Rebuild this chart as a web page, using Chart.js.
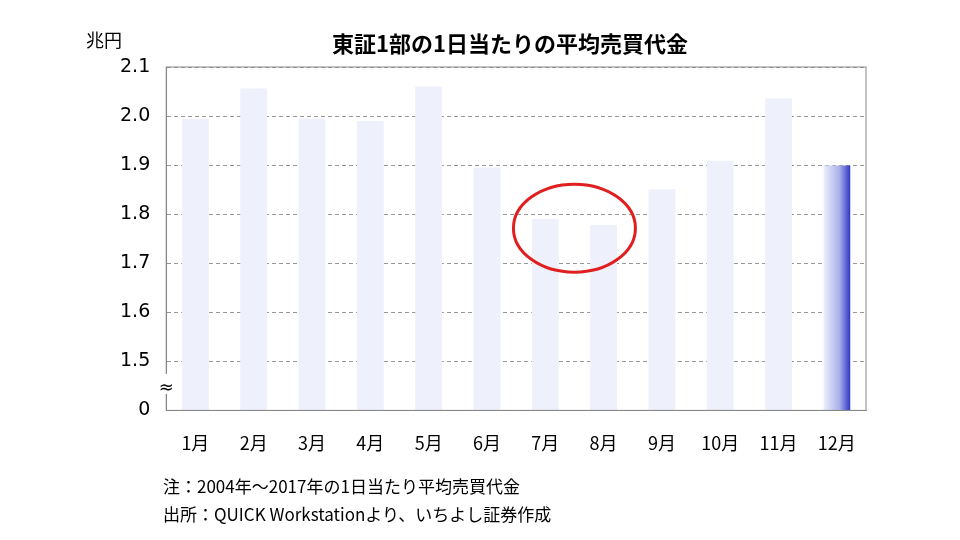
<!DOCTYPE html>
<html><head><meta charset="utf-8">
<script src="https://cdn.jsdelivr.net/npm/chart.js@4"></script>
<style>
body{margin:0;background:#fff;}
#wrap{position:relative;width:960px;height:540px;}
.t{position:absolute;font-family:"Noto Sans CJK JP","Noto Sans",sans-serif;color:#000;}
</style></head>
<body><div id="wrap">
<canvas id="c" width="960" height="540"></canvas>
<div class="t" style="left:0;width:1020px;top:26px;text-align:center;font-size:22px;font-weight:bold;">東証1部の1日当たりの平均売買代金</div>
<div class="t" style="left:86px;top:26px;font-size:18px;">兆円</div>
<div class="t" style="left:163px;top:473px;font-size:17px;">注：2004年～2017年の1日当たり平均売買代金</div>
<div class="t" style="left:163px;top:501px;font-size:17px;">出所：QUICK Workstationより、いちよし証券作成</div>
</div>
<script>
const months = ['1月','2月','3月','4月','5月','6月','7月','8月','9月','10月','11月','12月'];
const values = [1.994, 2.056, 1.995, 1.99, 2.06, 1.895, 1.79, 1.778, 1.851, 1.909, 2.036, 1.899];
const axisBase = 1.4; // 軸の切れ目: 1.4 の位置を「0」と表示
const tickLabels = {1.4: '0', 1.5: '1.5', 1.6: '1.6', 1.7: '1.7', 1.8: '1.8', 1.9: '1.9', 2.0: '2.0', 2.1: '2.1'};

// 棒ごとに横方向のグラデーションを付ける
const gradientBars = {
    id: 'gradientBars',
    beforeDatasetsDraw(chart) {
        chart.getDatasetMeta(0).data.forEach(el => {
            const x0 = el.x - el.width / 2, x1 = el.x + el.width / 2;
            const g = chart.ctx.createLinearGradient(x0, 0, x1, 0);
            g.addColorStop(0, '#eef0fb');
            g.addColorStop(0.6, '#a9b0ea');
            g.addColorStop(1, '#3035c4');
            el.options.backgroundColor = g;
        });
    }
};

// 7月・8月を囲む赤丸、軸の波線
const extras = {
    id: 'extras',
    afterDraw(chart) {
        const { ctx, scales: { x, y } } = chart;
        ctx.save();
        const cx = (x.getPixelForValue(6) + x.getPixelForValue(7)) / 2;
        const cy = y.getPixelForValue(1.8);
        ctx.strokeStyle = '#e02020';
        ctx.lineWidth = 3;
        ctx.beginPath();
        ctx.ellipse(cx, cy + 14, 61, 44, 0, 0, Math.PI * 2);
        ctx.stroke();
        ctx.fillStyle = '#fff';
        const yb = y.getPixelForValue(1.45);
        ctx.fillRect(x.left - 8, yb - 12, 16, 20);
        ctx.fillStyle = '#000';
        ctx.font = '18px "DejaVu Sans"';
        ctx.textAlign = 'center';
        ctx.textBaseline = 'middle';
        ctx.fillText('≈', x.left, yb + 2);
        ctx.restore();
    }
};

new Chart(document.getElementById('c'), {
    type: 'bar',
    data: {
        labels: months,
        datasets: [{
            data: values,
            base: axisBase,
            backgroundColor: '#8890dd',
            borderWidth: 0,
            barPercentage: 0.46,
            categoryPercentage: 1
        }]
    },
    options: {
        responsive: false,
        animation: false,
        layout: { padding: { left: 104, right: 94, top: 67, bottom: 72 } },
        plugins: { legend: { display: false }, tooltip: { enabled: false } },
        scales: {
            x: {
                grid: { display: false },
                border: { color: '#888', width: 1 },
                ticks: { color: '#000', font: { size: 18, family: '"Noto Sans CJK JP"' }, padding: 14 }
            },
            y: {
                min: 1.4, max: 2.1,
                grid: { color: '#999', drawTicks: false },
                border: { color: '#888', width: 1, dash: [4, 3] },
                ticks: {
                    stepSize: 0.1, padding: 16, color: '#000',
                    font: { size: 19, family: '"DejaVu Sans"' },
                    callback: v => tickLabels[Math.round(v * 10) / 10]
                }
            }
        }
    },
    plugins: [gradientBars, extras, {
        id: 'frame',
        afterDatasetsDraw(chart) {
            const a = chart.chartArea, c = chart.ctx;
            c.save(); c.strokeStyle = '#888'; c.lineWidth = 1;
            c.strokeRect(a.left, a.top, a.right - a.left, a.bottom - a.top);
            c.restore();
        }
    }]
});
</script>
</body></html>
